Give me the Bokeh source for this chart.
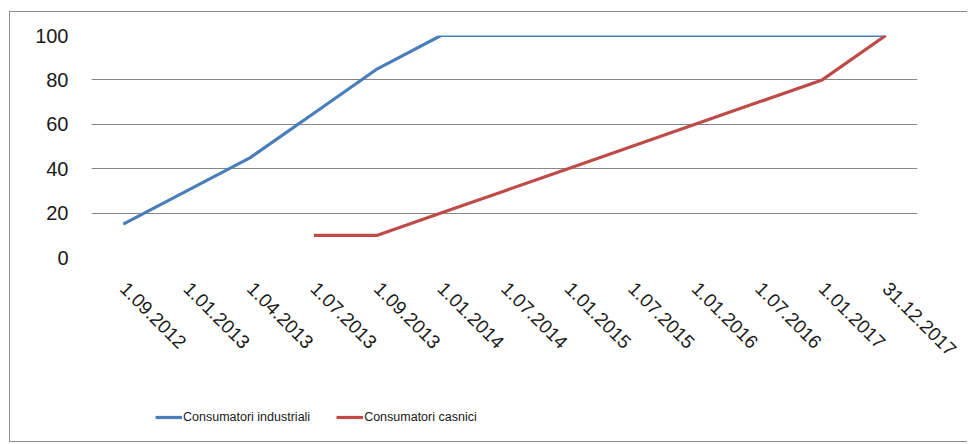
import math
from bokeh.plotting import figure
from bokeh.layouts import column
from bokeh.models import (ColumnDataSource, FactorRange, Range1d, FixedTicker,
                          Legend, LegendItem)
from bokeh.embed import file_html
from bokeh.resources import INLINE

dates = ["1.09.2012", "1.01.2013", "1.04.2013", "1.07.2013", "1.09.2013",
         "1.01.2014", "1.07.2014", "1.01.2015", "1.07.2015", "1.01.2016",
         "1.07.2016", "1.01.2017", "31.12.2017"]
industrial = [15, 30, 45, 65, 85, 100, 100, 100, 100, 100, 100, 100, 100]
household_dates = ["1.07.2013", "1.09.2013", "1.01.2014", "1.07.2014", "1.01.2015",
                   "1.07.2015", "1.01.2016", "1.07.2016", "1.01.2017", "31.12.2017"]
household = [10, 10, 20, 30, 40, 50, 60, 70, 80, 100]
y_ticks = [0, 20, 40, 60, 80, 100]
series_names = ["Consumatori industriali", "Consumatori casnici"]

BLUE = "#4A7EBB"
RED = "#BE4B48"
GRID = "#868686"
FONT = "Liberation Sans"

p = figure(x_range=FactorRange(*dates), y_range=Range1d(0, 100),
           width=957, height=383,
           min_border_left=81, min_border_right=50,
           min_border_top=23, min_border_bottom=138,
           output_backend="svg", toolbar_location=None,
           background_fill_color="white", border_fill_color="white")
p.outline_line_color = None

src_i = ColumnDataSource(dict(x=dates, y=industrial))
src_h = ColumnDataSource(dict(x=household_dates, y=household))
p.line("x", "y", source=src_i, line_color=BLUE, line_width=3.2)
p.line("x", "y", source=src_h, line_color=RED, line_width=3.2)

p.xgrid.grid_line_color = None
p.ygrid.grid_line_color = GRID
p.ygrid.grid_line_width = 1
p.yaxis.ticker = FixedTicker(ticks=y_ticks)

for ax in (p.xaxis[0], p.yaxis[0]):
    ax.axis_line_color = None
    ax.major_tick_line_color = None
    ax.minor_tick_line_color = None
    ax.major_tick_out = 0
    ax.major_tick_in = 0
    ax.major_label_text_font = FONT
    ax.major_label_text_color = "#1a1a1a"

p.xaxis.major_label_text_font_size = "19px"
p.yaxis.major_label_text_font_size = "20px"
p.yaxis.major_label_standoff = 23
p.xaxis.major_label_orientation = -math.pi / 4
p.xaxis.major_label_standoff = 28

# legend strip below the plot: same series, but its value range lies outside
# this strip's y range, so only the legend keys are visible
lg = figure(width=957, height=46, x_range=FactorRange(*dates),
            y_range=Range1d(1000, 1100),
            min_border=0, x_axis_location=None, y_axis_location=None,
            output_backend="svg", toolbar_location=None,
            background_fill_color="white", border_fill_color="white")
lg.outline_line_color = None
lg.grid.grid_line_color = None
k1 = lg.line("x", "y", source=src_i, line_color=BLUE, line_width=3.2)
k2 = lg.line("x", "y", source=src_h, line_color=RED, line_width=3.2)
legend = Legend(items=[LegendItem(label=series_names[0], renderers=[k1]),
                       LegendItem(label=series_names[1], renderers=[k2])],
                orientation="horizontal", location=(64, 16),
                border_line_color=None, background_fill_alpha=0,
                glyph_width=27, glyph_height=16, label_height=16,
                label_standoff=1, spacing=26, padding=0, margin=0,
                label_text_font=FONT,
                label_text_font_size="12.5px", label_text_color="#1a1a1a")
lg.add_layout(legend, "center")

layout = column(p, lg, spacing=0, margin=(11, 0, 0, 9),
                styles={"border-left": "1px solid #8c8c8c",
                        "border-top": "1px solid #8c8c8c",
                        "border-bottom": "1px solid #8c8c8c"})

open("out.html", "w").write(file_html(layout, INLINE))
